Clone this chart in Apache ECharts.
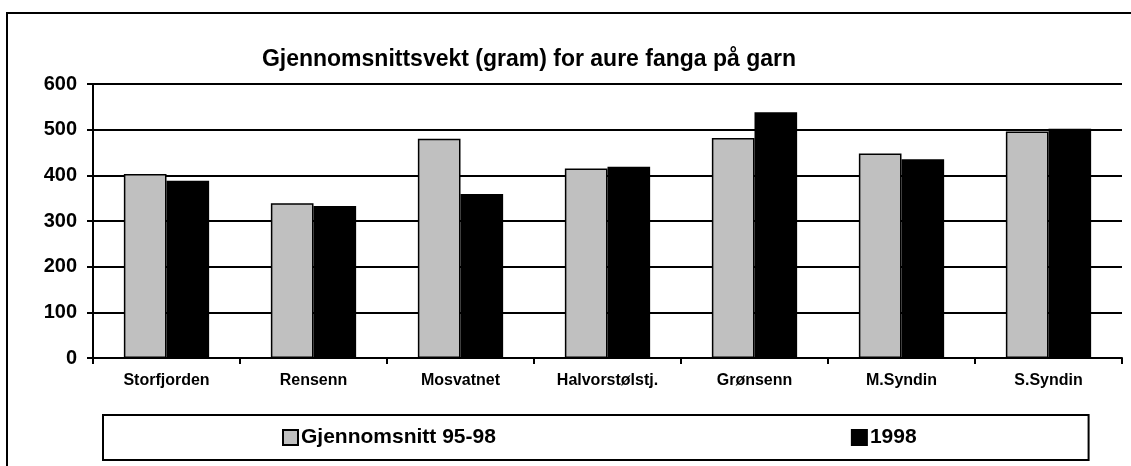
<!DOCTYPE html>
<html>
<head>
<meta charset="utf-8">
<script src="https://cdn.jsdelivr.net/npm/echarts@6/dist/echarts.min.js"></script>
<style>
  html, body { margin: 0; padding: 0; background: #fff; }
  #main { width: 1131px; height: 466px; }
</style>
</head>
<body>
<div id="main"></div>
<script>
// lake names along the x axis
var categories = ['Storfjorden', 'Rensenn', 'Mosvatnet', 'Halvorstølstj.', 'Grønsenn', 'M.Syndin', 'S.Syndin']
// average weight in grams
var avg9598 = [403, 339, 480, 415, 482, 448, 496]
var year1998 = [388, 333, 359, 419, 538, 435, 502]
var yTicks = [0, 100, 200, 300, 400, 500, 600]

var font = 'Arial, "Liberation Sans", sans-serif'
var myChart = echarts.init(document.getElementById('main'))

myChart.setOption({
  animation: false,
  backgroundColor: '#fff',
  title: {
    text: 'Gjennomsnittsvekt (gram) for aure fanga på garn',
    left: 524,
    textAlign: 'center',
    top: 43,
    textStyle: { fontFamily: font, fontWeight: 'bold', fontSize: 23, color: '#000' },
  },
  graphic: [
    {
      type: 'rect',
      shape: { x: 7, y: 13, width: 1200, height: 500 },
      style: { fill: 'none', stroke: '#000', lineWidth: 2 },
      silent: true,
    },
  ],
  legend: {
    left: 103,
    top: 415,
    padding: [12, 172, 12, 179],
    itemGap: 355,
    itemWidth: 15,
    itemHeight: 15,
    borderColor: '#000',
    borderWidth: 2,
    icon: 'rect',
    textStyle: { fontFamily: font, fontWeight: 'bold', fontSize: 21, color: '#000', padding: [0, 0, 0, -2] },
    data: ['Gjennomsnitt 95-98', '1998'],
  },
  grid: {
    left: 93,
    right: 9,
    top: 84,
    bottom: 108,
  },
  xAxis: {
    type: 'category',
    data: categories,
    axisLine: { lineStyle: { color: '#000', width: 2 } },
    axisTick: { show: true, length: 6, lineStyle: { color: '#000', width: 2 } },
    axisLabel: { margin: 15, fontFamily: font, fontWeight: 'bold', fontSize: 16, color: '#000' },
  },
  yAxis: {
    type: 'value',
    min: yTicks[0],
    max: yTicks[yTicks.length - 1],
    interval: 100,
    axisLine: { show: true, lineStyle: { color: '#000', width: 2 } },
    axisTick: { show: true, length: 6, lineStyle: { color: '#000', width: 2 } },
    axisLabel: { margin: 16, fontFamily: font, fontWeight: 'bold', fontSize: 20, color: '#000' },
    splitLine: { lineStyle: { color: '#000', width: 2 } },
  },
  series: [
    {
      name: 'Gjennomsnitt 95-98',
      type: 'bar',
      data: avg9598,
      barGap: '0%',
      barCategoryGap: '42%',
      itemStyle: { color: '#c0c0c0', borderColor: '#000', borderWidth: 1.5 },
    },
    {
      name: '1998',
      type: 'bar',
      data: year1998,
      itemStyle: { color: '#000', borderColor: '#000', borderWidth: 1.5 },
    },
  ],
})
</script>
</body>
</html>
